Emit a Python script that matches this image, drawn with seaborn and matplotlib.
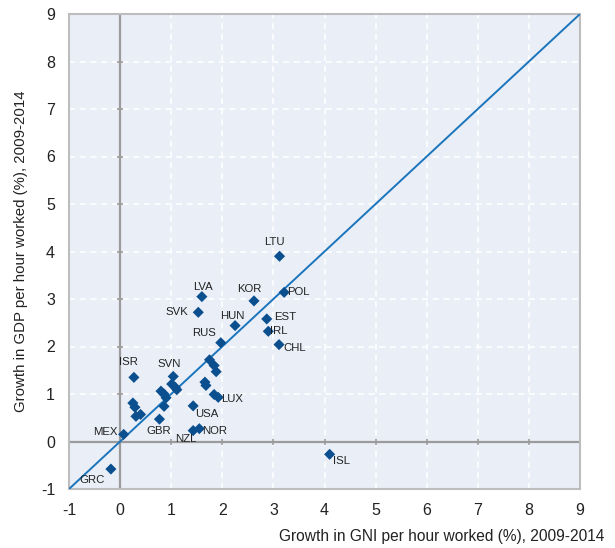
import matplotlib
matplotlib.use("Agg")
import matplotlib.pyplot as plt
import seaborn as sns
import pandas as pd
import numpy as np

# ---- data ----
countries = ["ISR", "SVN", "", "", "", "", "", "", "", "", "", "", "GBR", "MEX", "GRC",
             "NZL", "NOR", "USA", "", "LUX", "", "", "", "", "", "RUS",
             "LTU", "LVA", "KOR", "POL", "SVK", "HUN", "EST", "IRL", "CHL", "ISL", ""]
gni = [0.27, 1.04, 1.01, 1.08, 1.11, 0.80, 0.86, 0.90, 0.86, 0.25, 0.29, 0.31, 0.77, 0.07, -0.18,
       1.43, 1.55, 1.43, 1.84, 1.92, 1.66, 1.68, 1.75, 1.84, 1.88, 1.97,
       3.12, 1.60, 2.62, 3.21, 1.53, 2.25, 2.87, 2.90, 3.11, 4.10, 0.40]
gdp = [1.35, 1.37, 1.21, 1.14, 1.09, 1.06, 1.00, 0.92, 0.74, 0.81, 0.72, 0.53, 0.47, 0.15, -0.58,
       0.23, 0.27, 0.75, 0.99, 0.93, 1.25, 1.18, 1.72, 1.60, 1.47, 2.08,
       3.90, 3.05, 2.96, 3.14, 2.72, 2.44, 2.58, 2.32, 2.04, -0.27, 0.57]

ticks = list(range(-1, 10))
xlabel = "Growth in GNI per hour worked (%), 2009-2014"
ylabel = "Growth in GDP per hour worked (%), 2009-2014"

# label offsets in pixels (dx, dy) -- styling only
label_style = {
    "ISR": (-5, 10, "center", "bottom"),
    "SVN": (-4, 7, "center", "bottom"),
    "MEX": (-6, 2, "right", "center"),
    "GRC": (-6, -11, "right", "center"),
    "GBR": (-1, -7, "center", "top"),
    "NZL": (-7, -3, "center", "top"),
    "NOR": (3, -2, "left", "center"),
    "USA": (2, -3, "left", "top"),
    "LUX": (3, -2, "left", "center"),
    "RUS": (-5, 5, "right", "bottom"),
    "HUN": (-3, 5, "center", "bottom"),
    "LVA": (1, 5, "center", "bottom"),
    "SVK": (-10, 0, "right", "center"),
    "KOR": (-5, 7, "center", "bottom"),
    "LTU": (-5, 9, "center", "bottom"),
    "POL": (3, 0, "left", "center"),
    "EST": (7, 2, "left", "center"),
    "IRL": (2, 0, "left", "center"),
    "CHL": (4, -3, "left", "center"),
    "ISL": (3, -7, "left", "center"),
}

df = pd.DataFrame({"country": countries, "gni": gni, "gdp": gdp})

sns.set_theme(style="white")
plt.rcParams["font.family"] = ["Liberation Sans", "DejaVu Sans"]

fig = plt.figure(figsize=(6.15, 5.48), dpi=100)
ax = fig.add_axes([69 / 615, 1 - 489 / 548, (580 - 69) / 615, (489 - 14) / 548])
ax.set_facecolor("#e9eef7")

ax.set_xlim(-1, 9)
ax.set_ylim(-1, 9)

# grid
for t in ticks:
    if t in (-1, 0, 9):
        continue
    ax.axvline(t, color="white", lw=1.1, ls=(0, (4, 3)), zorder=1)
    ax.axhline(t, color="white", lw=1.1, ls=(0, (4, 3)), zorder=1)
ax.axvline(0, color="#9b9b9b", lw=1.6, zorder=2)
ax.axhline(0, color="#9b9b9b", lw=1.6, zorder=2)

# small ticks on zero lines
tk = np.array([t for t in ticks if t not in (-1, 0, 9)])
ax.plot(tk, np.zeros_like(tk), ls="none", marker="|", ms=5, color="#9b9b9b", mew=1.2, zorder=2)
ax.plot(np.zeros_like(tk), tk, ls="none", marker="_", ms=5, color="#9b9b9b", mew=1.2, zorder=2)

# 45-degree line
ax.plot([-1, 9], [-1, 9], color="#1b75bc", lw=1.4, zorder=3)

sns.scatterplot(data=df, x="gni", y="gdp", marker="D", s=32, color="#0b4f8e",
                edgecolor="none", ax=ax, zorder=4, legend=False)

for c, x, y in zip(countries, gni, gdp):
    if c and c in label_style:
        dx, dy, ha, va = label_style[c]
        ax.annotate(c, (x, y), xytext=(dx, dy), textcoords="offset pixels",
                    ha=ha, va=va, fontsize=8.2, color="#222222", zorder=5)

ax.set_xticks(ticks)
ax.set_yticks(ticks)
ax.set_xticklabels([str(t) for t in ticks], fontsize=11.5, color="#222222")
ax.set_yticklabels([str(t) for t in ticks], fontsize=11.5, color="#222222")
ax.tick_params(axis="both", length=0, pad=10)

for s in ax.spines.values():
    s.set_color("#bdbdbd")
    s.set_linewidth(1.5)

ax.set_xlabel(xlabel, fontsize=11.2, color="#222222")
ax.xaxis.set_label_coords(1.047, -0.085)
ax.xaxis.label.set_horizontalalignment("right")
ax.set_ylabel(ylabel, fontsize=10.8, color="#222222")
ax.yaxis.set_label_coords(-0.08, 0.5)

fig.savefig("out.png", dpi=100)
